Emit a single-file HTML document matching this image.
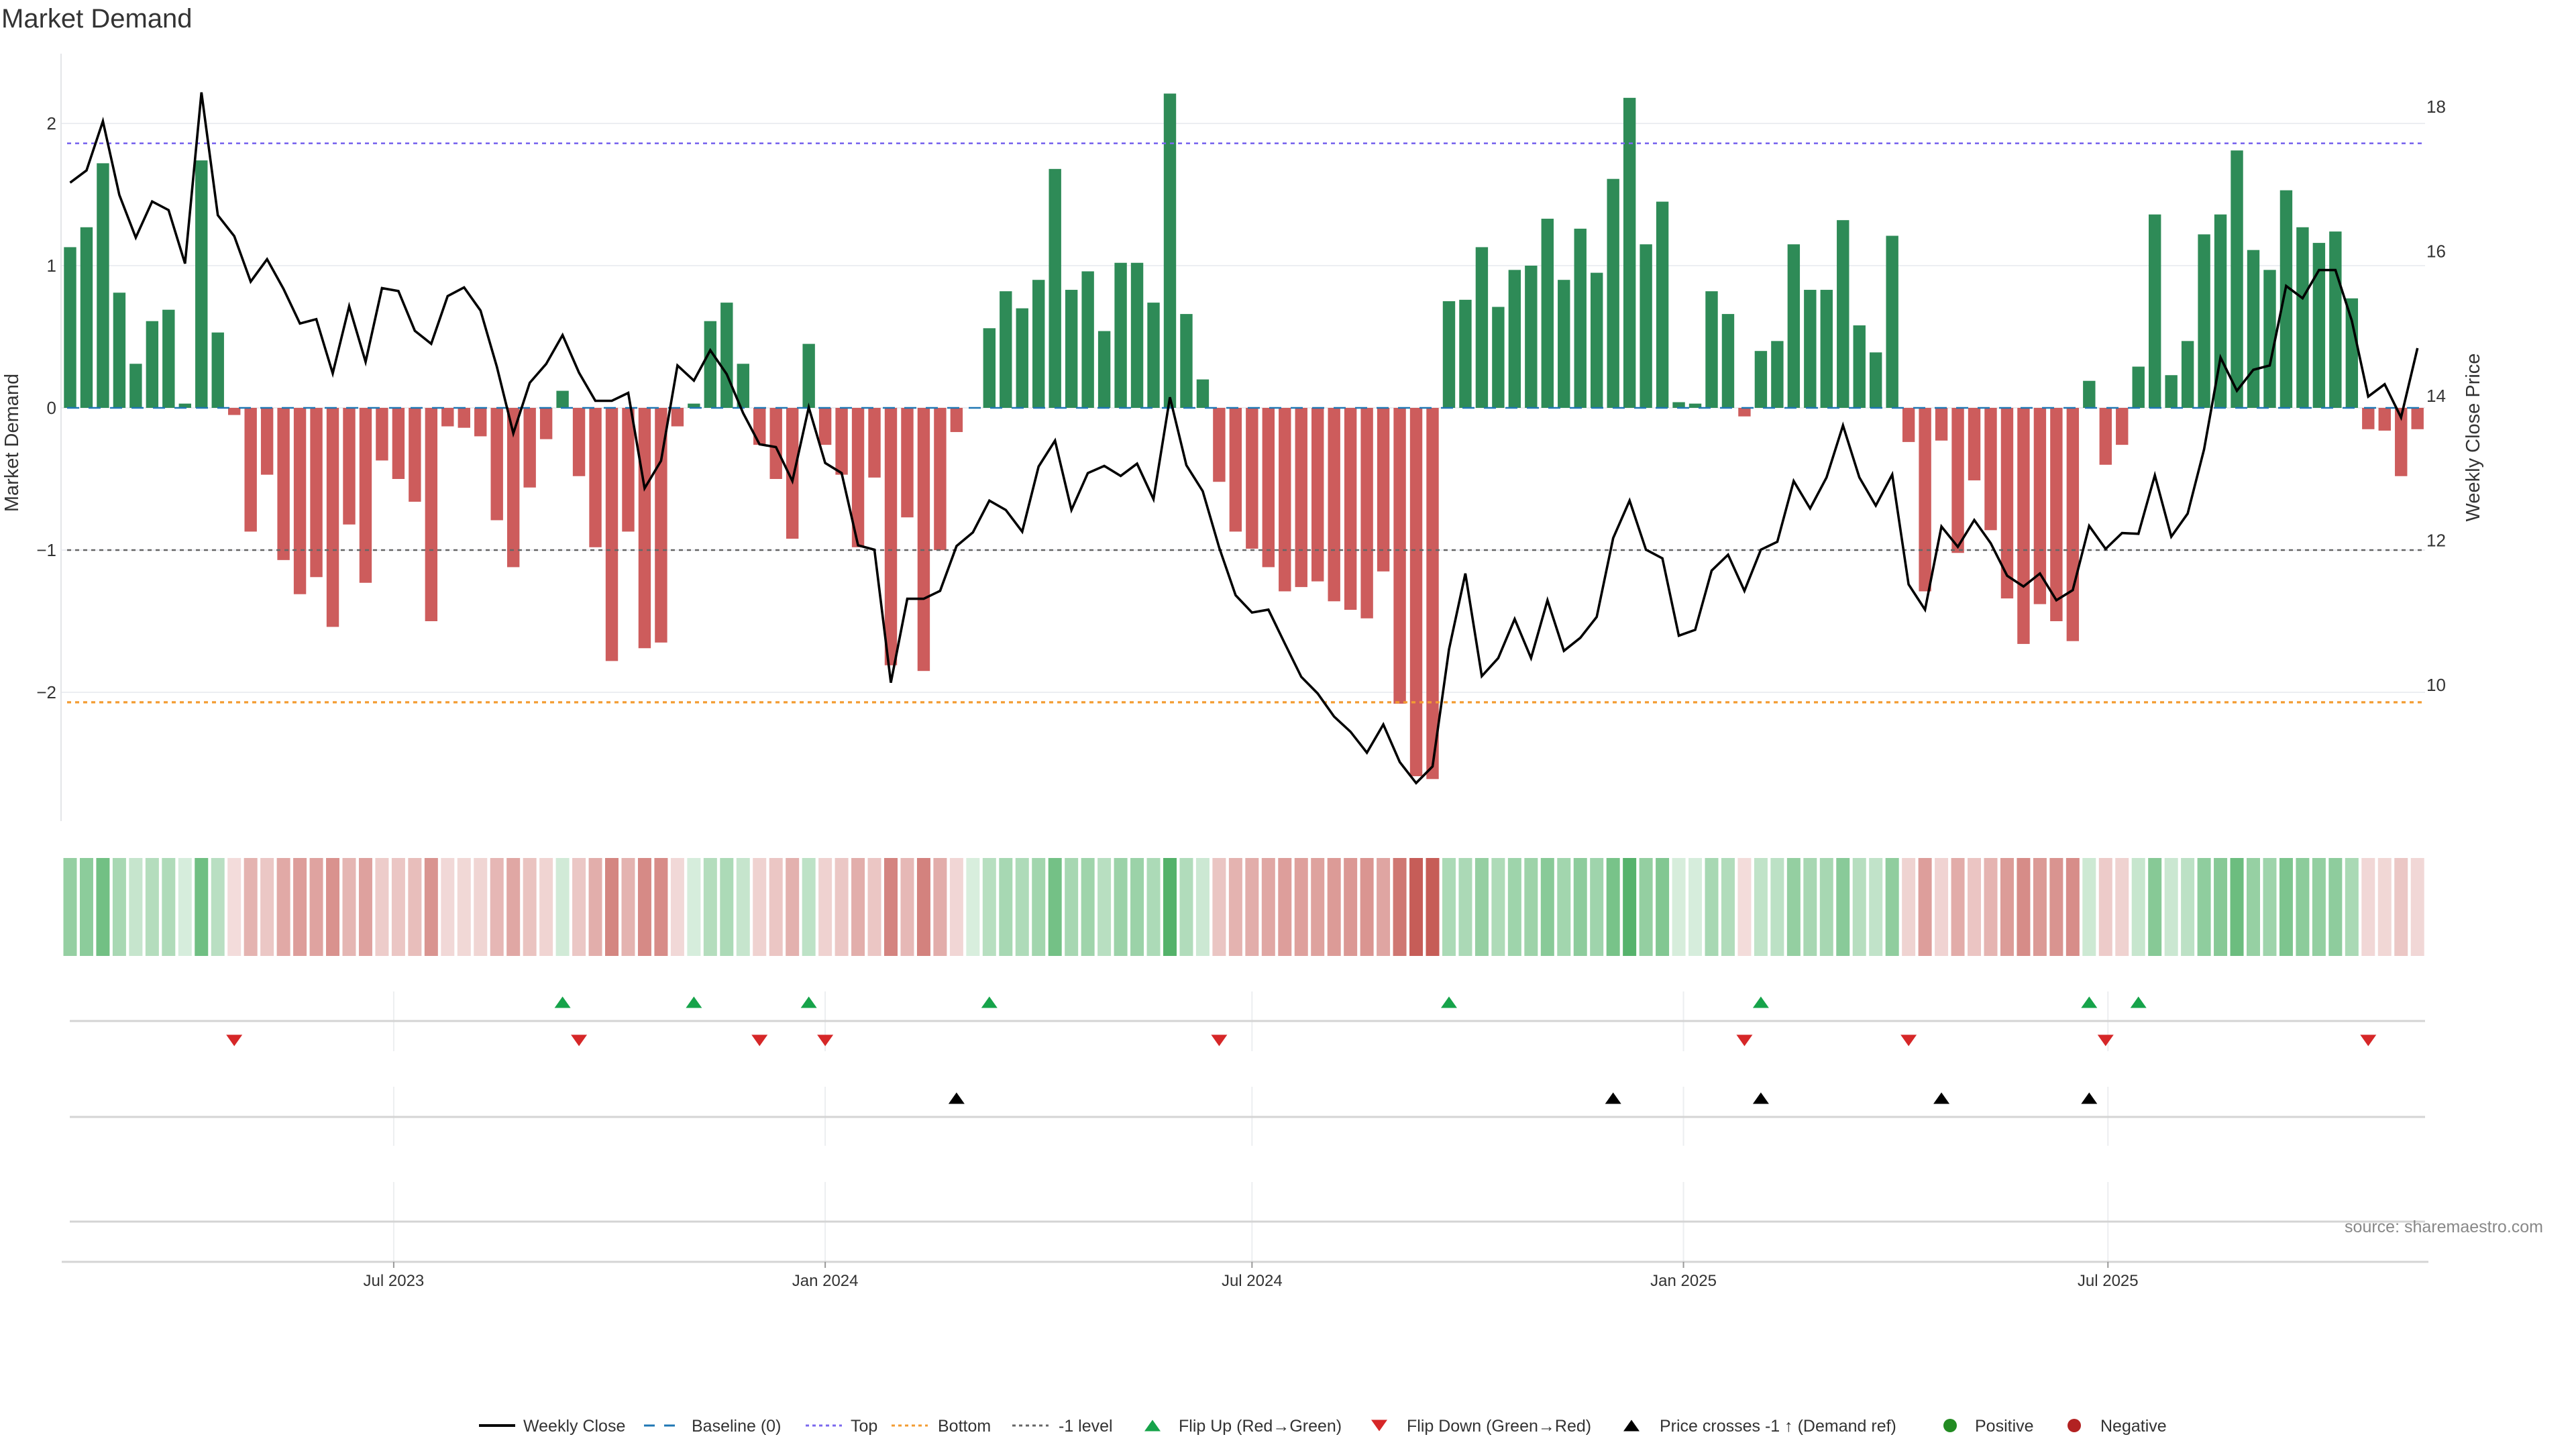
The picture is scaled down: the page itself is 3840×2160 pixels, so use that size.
<!DOCTYPE html>
<html><head><meta charset="utf-8"><title>Market Demand</title>
<style>
html,body{margin:0;padding:0;background:#fff;}
svg{display:block;font-family:"Liberation Sans","DejaVu Sans",sans-serif;}
</style></head>
<body>
<svg id="chart" width="3840" height="2160" viewBox="0 0 3840 2160" xmlns="http://www.w3.org/2000/svg">
<rect width="3840" height="2160" fill="#fff"/>
<text x="2" y="41" font-size="40" fill="#333">Market Demand</text>
<g id="main"></g>
</svg>
<script>
const startDate = "2023-02-13";
const demand = [1.13,1.27,1.72,0.81,0.31,0.61,0.69,0.03,1.74,0.53,
-0.05,-0.87,-0.47,-1.07,-1.31,-1.19,-1.54,-0.82,-1.23,-0.37,
-0.5,-0.66,-1.5,-0.13,-0.14,-0.2,-0.79,-1.12,-0.56,-0.22,
0.12,-0.48,-0.98,-1.78,-0.87,-1.69,-1.65,-0.13,0.03,0.61,
0.74,0.31,-0.26,-0.5,-0.92,0.45,-0.26,-0.47,-0.98,-0.49,
-1.81,-0.77,-1.85,-1.0,-0.17,0.0,0.56,0.82,0.7,0.9,
1.68,0.83,0.96,0.54,1.02,1.02,0.74,2.21,0.66,0.2,
-0.52,-0.87,-0.99,-1.12,-1.29,-1.26,-1.22,-1.36,-1.42,-1.48,
-1.15,-2.08,-2.59,-2.61,0.75,0.76,1.13,0.71,0.97,1.0,
1.33,0.9,1.26,0.95,1.61,2.18,1.15,1.45,0.04,0.03,
0.82,0.66,-0.06,0.4,0.47,1.15,0.83,0.83,1.32,0.58,
0.39,1.21,-0.24,-1.29,-0.23,-1.02,-0.51,-0.86,-1.34,-1.66,
-1.38,-1.5,-1.64,0.19,-0.4,-0.26,0.29,1.36,0.23,0.47,
1.22,1.36,1.81,1.11,0.97,1.53,1.27,1.16,1.24,0.77,
-0.15,-0.16,-0.48,-0.15];
const closePrice = [16.95,17.12,17.8,16.78,16.19,16.69,16.57,15.83,18.2,16.5,
16.21,15.58,15.89,15.48,15.0,15.06,14.31,15.24,14.47,15.49,
15.45,14.9,14.72,15.38,15.5,15.18,14.4,13.48,14.18,14.44,
14.84,14.32,13.93,13.93,14.04,12.72,13.1,14.42,14.21,14.63,
14.3,13.76,13.33,13.29,12.82,13.84,13.07,12.93,11.93,11.87,
10.03,11.19,11.19,11.3,11.92,12.11,12.55,12.42,12.12,13.02,
13.38,12.42,12.93,13.03,12.89,13.06,12.57,13.98,13.04,12.68,
11.9,11.24,11.0,11.04,10.57,10.11,9.88,9.56,9.35,9.06,
9.45,8.93,8.64,8.87,10.49,11.54,10.12,10.37,10.91,10.37,
11.17,10.47,10.65,10.94,12.03,12.55,11.87,11.75,10.68,10.76,
11.58,11.8,11.3,11.87,11.98,12.82,12.44,12.87,13.59,12.87,
12.48,12.91,11.39,11.04,12.19,11.91,12.28,11.96,11.51,11.36,
11.54,11.17,11.31,12.2,11.88,12.1,12.09,12.9,12.05,12.37,
13.26,14.53,14.07,14.36,14.42,15.52,15.35,15.74,15.74,15.04,
13.99,14.16,13.7,14.66];
const flipUpIdx = [30,38,45,56,84,103,123,126];
const flipDownIdx = [10,31,42,46,70,102,112,124,140];
const priceCrossIdx = [54,94,103,114,123];
const topLevel = 1.86;
const bottomLevel = -2.07;
const minusOneLevel = -1;
const leftTicks = [2,1,0,-1,-2];
const rightTicks = [18,16,14,12,10];
const xTickDates = ["2023-07-01","2024-01-01","2024-07-01","2025-01-01","2025-07-01"];
const xTickLabels = ["Jul 2023","Jan 2024","Jul 2024","Jan 2025","Jul 2025"];

const NS = "http://www.w3.org/2000/svg";
const g = document.getElementById("main");
const X0 = 104.5, PITCH = 24.47;
const DAY = 86400000;
const t0 = Date.parse(startDate);
function xIdx(i){ return X0 + i*PITCH; }
function xDate(s){ return X0 + (Date.parse(s)-t0)/DAY/7*PITCH; }
function yDem(v){ return 608 - v*212; }
function yPrice(p){ return 590 - (p-14)*107.7; }
function el(tag, attrs, parent){
  const e = document.createElementNS(NS, tag);
  for (const k in attrs) e.setAttribute(k, attrs[k]);
  (parent||g).appendChild(e);
  return e;
}
function txt(x,y,s,size,fill,anchor,extra){
  const t = el("text",Object.assign({x:x,y:y,"font-size":size,fill:fill,"text-anchor":anchor||"start"},extra||{}));
  t.textContent = s; return t;
}
const plotR = 3615;
leftTicks.forEach(v=>{
  const l = el("line",{x1:91,x2:plotR,y1:yDem(v),y2:yDem(v),stroke:"#eceef2","stroke-width":2});
  
  
  const t = txt(84,yDem(v)+9,v<0?"\u2212"+Math.abs(v):String(v),26,"#333","end");
  
  
});
rightTicks.forEach(p=>{
  const t = txt(3617,yPrice(p)+9,String(p),26,"#333","start");
  
  
});
const ax = el("line",{x1:91,x2:91,y1:80,y2:1224,stroke:"#e3e5e8","stroke-width":2});


const yt = txt(0,0,"Market Demand",29,"#333","middle",{transform:"translate(27,660) rotate(-90)"});


const yt2 = txt(0,0,"Weekly Close Price",29,"#333","middle",{transform:"translate(3696,652) rotate(-90)"});


demand.forEach((v,i)=>{
  const y0 = yDem(0), y1 = yDem(v);
  const b = el("rect",{x:xIdx(i)-9.2,width:18.4,y:Math.min(y0,y1),height:Math.max(Math.abs(y1-y0),0.01),fill:v>=0?"#2e8b57":"#cd5c5c"});
  
  
});
function refLine(v,color,dash,name,w){
  const l = el("line",{x1:100,x2:plotR,y1:yDem(v),y2:yDem(v),stroke:color,"stroke-width":w||2.6,"stroke-dasharray":dash});
  
  
}
refLine(0,"#1f77b4","18 14","baseline-zero");
refLine(topLevel,"#7b68ee","6 6","top-level-line");
refLine(bottomLevel,"#f39c32","6 6","bottom-level-line",3.2);
refLine(minusOneLevel,"#666","6 6","minus-one-level-line");
const pts = closePrice.map((p,i)=>xIdx(i).toFixed(1)+","+yPrice(p).toFixed(1)).join(" ");
const pl = el("polyline",{points:pts,fill:"none",stroke:"#000","stroke-width":3.6,"stroke-linejoin":"miter"});


function heat(v){
  const a = 0.2 + 0.8*Math.min(Math.abs(v)/2.6,1);
  const c = v>=0 ? [61,168,86] : [198,93,87];
  return "rgb("+c.map(k=>Math.round(255-a*(255-k))).join(",")+")";
}
demand.forEach((v,i)=>{
  const r = el("rect",{x:xIdx(i)-10,width:20,y:1279,height:146,fill:heat(v)});
  
  
});
[[1478,1567],[1620,1708],[1762,1881]].forEach(seg=>{
  xTickDates.forEach(d=>{
    const l = el("line",{x1:xDate(d),x2:xDate(d),y1:seg[0],y2:seg[1],stroke:"#eceef0","stroke-width":2});
    
    
  });
});
[1522,1665,1821].forEach(y=>{
  const l = el("line",{x1:104,x2:3615,y1:y,y2:y,stroke:"#d4d4d4","stroke-width":3});
  
  
});
const xa = el("line",{x1:92,x2:3620,y1:1881,y2:1881,stroke:"#d4d4d4","stroke-width":3});


xTickDates.forEach((d,k)=>{
  const x = xDate(d);
  const tk = el("line",{x1:x,x2:x,y1:1881,y2:1890,stroke:"#999","stroke-width":2});
  
  
  const t = txt(x,1917,xTickLabels[k],24,"#333","middle");
  
  
});
function tri(x,yc,up,color){
  const w=12,h=8.5;
  const p = up ? [x-w,yc+h,x+w,yc+h,x,yc-h] : [x-w,yc-h,x+w,yc-h,x,yc+h];
  return el("polygon",{points:p.join(","),fill:color});
}
flipUpIdx.forEach(i=>{
  const m = tri(xIdx(i),1494,true,"#16a34a");
  
  
});
flipDownIdx.forEach(i=>{
  const m = tri(xIdx(i),1551,false,"#d62728");
  
  
});
priceCrossIdx.forEach(i=>{
  const m = tri(xIdx(i),1637,true,"#000");
  
  
});
const src = txt(3791,1837,"source: sharemaestro.com",25,"#888","end");


const LY = 2125;
function legLine(x,color,dash,label,tx,name){
  const l = el("line",{x1:x,x2:x+54,y1:LY,y2:LY,stroke:color,"stroke-width":dash?3:4,"stroke-dasharray":dash||"none"});
  
  
  const t = txt(tx,LY+9,label,25,"#333","start");
  
  
}
legLine(714,"#000",null,"Weekly Close",780,"legend-weekly-close");
legLine(960,"#1f77b4","16 14","Baseline (0)",1031,"legend-baseline");
legLine(1201,"#7b68ee","5 5","Top",1268,"legend-top");
legLine(1329,"#f39c32","5 5","Bottom",1398,"legend-bottom");
legLine(1509,"#666","5 5","-1 level",1578,"legend-minus-one");
function legTri(x,up,color,label,tx,name){
  const m = tri(x,LY,up,color);
  
  
  const t = txt(tx,LY+9,label,25,"#333","start");
  
  
}
legTri(1718,true,"#16a34a","Flip Up (Red\u2192Green)",1757,"legend-flip-up");
legTri(2056,false,"#d62728","Flip Down (Green\u2192Red)",2097,"legend-flip-down");
legTri(2432,true,"#000","Price crosses -1 \u2191 (Demand ref)",2474,"legend-price-cross");
function legDot(x,color,label,tx,name){
  const c = el("circle",{cx:x,cy:LY,r:10,fill:color});
  
  
  const t = txt(tx,LY+9,label,25,"#333","start");
  
  
}
legDot(2907,"#228b22","Positive",2944,"legend-positive");
legDot(3092,"#b22222","Negative",3131,"legend-negative");
</script>
</body></html>
